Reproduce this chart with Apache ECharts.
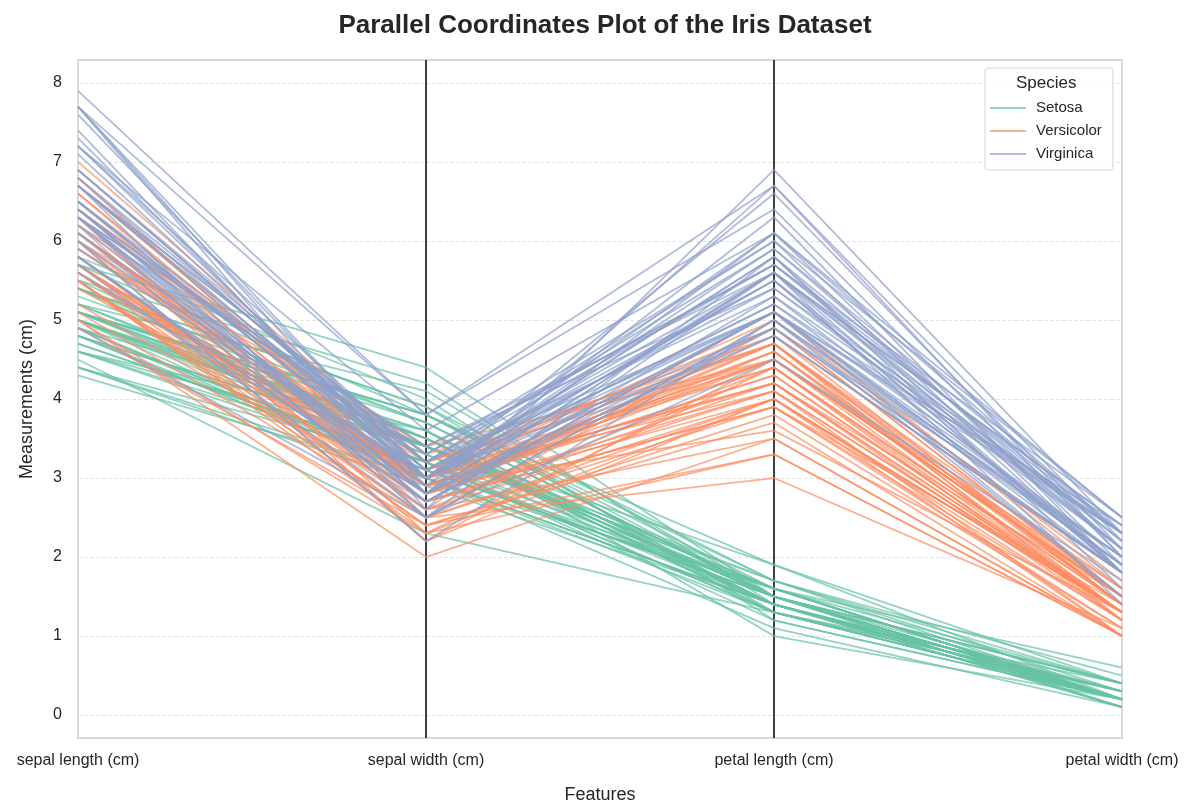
<!DOCTYPE html>
<html>
<head>
<meta charset="utf-8">
<script src="https://cdn.jsdelivr.net/npm/echarts@6/dist/echarts.min.js"></script>
<style>
html, body { margin: 0; padding: 0; background: #fff; }
#main { width: 1190px; height: 803px; }
</style>
</head>
<body>
<div id="main"></div>
<script>
const features = ['sepal length (cm)', 'sepal width (cm)', 'petal length (cm)', 'petal width (cm)'];
const speciesNames = ['Setosa', 'Versicolor', 'Virginica'];
const speciesColors = ['#66c2a5', '#fc8d62', '#8da0cb'];
const yTicks = [0, 1, 2, 3, 4, 5, 6, 7, 8];

const setosaRows = [
  [5.1,3.5,1.4,0.2],[4.9,3.0,1.4,0.2],[4.7,3.2,1.3,0.2],[4.6,3.1,1.5,0.2],[5.0,3.6,1.4,0.2],
  [5.4,3.9,1.7,0.4],[4.6,3.4,1.4,0.3],[5.0,3.4,1.5,0.2],[4.4,2.9,1.4,0.2],[4.9,3.1,1.5,0.1],
  [5.4,3.7,1.5,0.2],[4.8,3.4,1.6,0.2],[4.8,3.0,1.4,0.1],[4.3,3.0,1.1,0.1],[5.8,4.0,1.2,0.2],
  [5.7,4.4,1.5,0.4],[5.4,3.9,1.3,0.4],[5.1,3.5,1.4,0.3],[5.7,3.8,1.7,0.3],[5.1,3.8,1.5,0.3],
  [5.4,3.4,1.7,0.2],[5.1,3.7,1.5,0.4],[4.6,3.6,1.0,0.2],[5.1,3.3,1.7,0.5],[4.8,3.4,1.9,0.2],
  [5.0,3.0,1.6,0.2],[5.0,3.4,1.6,0.4],[5.2,3.5,1.5,0.2],[5.2,3.4,1.4,0.2],[4.7,3.2,1.6,0.2],
  [4.8,3.1,1.6,0.2],[5.4,3.4,1.5,0.4],[5.2,4.1,1.5,0.1],[5.5,4.2,1.4,0.2],[4.9,3.1,1.5,0.2],
  [5.0,3.2,1.2,0.2],[5.5,3.5,1.3,0.2],[4.9,3.6,1.4,0.1],[4.4,3.0,1.3,0.2],[5.1,3.4,1.5,0.2],
  [5.0,3.5,1.3,0.3],[4.5,2.3,1.3,0.3],[4.4,3.2,1.3,0.2],[5.0,3.5,1.6,0.6],[5.1,3.8,1.9,0.4],
  [4.8,3.0,1.4,0.3],[5.1,3.8,1.6,0.2],[4.6,3.2,1.4,0.2],[5.3,3.7,1.5,0.2],[5.0,3.3,1.4,0.2]
];
const versicolorRows = [
  [7.0,3.2,4.7,1.4],[6.4,3.2,4.5,1.5],[6.9,3.1,4.9,1.5],[5.5,2.3,4.0,1.3],[6.5,2.8,4.6,1.5],
  [5.7,2.8,4.5,1.3],[6.3,3.3,4.7,1.6],[4.9,2.4,3.3,1.0],[6.6,2.9,4.6,1.3],[5.2,2.7,3.9,1.4],
  [5.0,2.0,3.5,1.0],[5.9,3.0,4.2,1.5],[6.0,2.2,4.0,1.0],[6.1,2.9,4.7,1.4],[5.6,2.9,3.6,1.3],
  [6.7,3.1,4.4,1.4],[5.6,3.0,4.5,1.5],[5.8,2.7,4.1,1.0],[6.2,2.2,4.5,1.5],[5.6,2.5,3.9,1.1],
  [5.9,3.2,4.8,1.8],[6.1,2.8,4.0,1.3],[6.3,2.5,4.9,1.5],[6.1,2.8,4.7,1.2],[6.4,2.9,4.3,1.3],
  [6.6,3.0,4.4,1.4],[6.8,2.8,4.8,1.4],[6.7,3.0,5.0,1.7],[6.0,2.9,4.5,1.5],[5.7,2.6,3.5,1.0],
  [5.5,2.4,3.8,1.1],[5.5,2.4,3.7,1.0],[5.8,2.7,3.9,1.2],[6.0,2.7,5.1,1.6],[5.4,3.0,4.5,1.5],
  [6.0,3.4,4.5,1.6],[6.7,3.1,4.7,1.5],[6.3,2.3,4.4,1.3],[5.6,3.0,4.1,1.3],[5.5,2.5,4.0,1.3],
  [5.5,2.6,4.4,1.2],[6.1,3.0,4.6,1.4],[5.8,2.6,4.0,1.2],[5.0,2.3,3.3,1.0],[5.6,2.7,4.2,1.3],
  [5.7,3.0,4.2,1.2],[5.7,2.9,4.2,1.3],[6.2,2.9,4.3,1.3],[5.1,2.5,3.0,1.1],[5.7,2.8,4.1,1.3]
];
const virginicaRows = [
  [6.3,3.3,6.0,2.5],[5.8,2.7,5.1,1.9],[7.1,3.0,5.9,2.1],[6.3,2.9,5.6,1.8],[6.5,3.0,5.8,2.2],
  [7.6,3.0,6.6,2.1],[4.9,2.5,4.5,1.7],[7.3,2.9,6.3,1.8],[6.7,2.5,5.8,1.8],[7.2,3.6,6.1,2.5],
  [6.5,3.2,5.1,2.0],[6.4,2.7,5.3,1.9],[6.8,3.0,5.5,2.1],[5.7,2.5,5.0,2.0],[5.8,2.8,5.1,2.4],
  [6.4,3.2,5.3,2.3],[6.5,3.0,5.5,1.8],[7.7,3.8,6.7,2.2],[7.7,2.6,6.9,2.3],[6.0,2.2,5.0,1.5],
  [6.9,3.2,5.7,2.3],[5.6,2.8,4.9,2.0],[7.7,2.8,6.7,2.0],[6.3,2.7,4.9,1.8],[6.7,3.3,5.7,2.1],
  [7.2,3.2,6.0,1.8],[6.2,2.8,4.8,1.8],[6.1,3.0,4.9,1.8],[6.4,2.8,5.6,2.1],[7.2,3.0,5.8,1.6],
  [7.4,2.8,6.1,1.9],[7.9,3.8,6.4,2.0],[6.4,2.8,5.6,2.2],[6.3,2.8,5.1,1.5],[6.1,2.6,5.6,1.4],
  [7.7,3.0,6.1,2.3],[6.3,3.4,5.6,2.4],[6.4,3.1,5.5,1.8],[6.0,3.0,4.8,1.8],[6.9,3.1,5.4,2.1],
  [6.7,3.1,5.6,2.4],[6.9,3.1,5.1,2.3],[5.8,2.7,5.1,1.9],[6.8,3.2,5.9,2.3],[6.7,3.3,5.7,2.5],
  [6.7,3.0,5.2,2.3],[6.3,2.5,5.0,1.9],[6.5,3.0,5.2,2.0],[6.2,3.4,5.4,2.3],[5.9,3.0,5.1,1.8]
];

const font = 'Liberation Sans, Arial, sans-serif';
const rowsBySpecies = [setosaRows, versicolorRows, virginicaRows];
const series = [];
rowsBySpecies.forEach((rows, si) => {
  rows.forEach((row) => {
    series.push({
      name: speciesNames[si],
      type: 'line',
      data: row,
      symbol: 'none',
      silent: true,
      lineStyle: { color: speciesColors[si], width: 1.8, opacity: 0.7 },
      itemStyle: { color: speciesColors[si], opacity: 0.7 },
      emphasis: { disabled: true }
    });
  });
});

const chart = echarts.init(document.getElementById('main'));
chart.setOption({
  backgroundColor: '#fff',
  animation: false,
  title: {
    text: 'Parallel Coordinates Plot of the Iris Dataset',
    left: 600, top: 8, textAlign: 'center',
    textStyle: { fontFamily: font, fontSize: 26, fontWeight: 'bold', color: '#262626' }
  },
  grid: {
    left: 78, right: 68, top: 60, bottom: 65,
    outerBoundsMode: 'none',
    show: true, borderColor: '#cccccc', borderWidth: 1.5, backgroundColor: '#fff'
  },
  legend: {
    data: speciesNames,
    orient: 'vertical',
    left: 985, top: 68,
    padding: [32, 11, 8, 5],
    itemGap: 7,
    itemWidth: 36, itemHeight: 16,
    icon: 'path://M0,7 L36,7 L36,9 L0,9 Z',
    borderColor: '#d5d5d5', borderWidth: 1, borderRadius: 3,
    backgroundColor: 'rgba(255,255,255,0.8)',
    textStyle: { fontFamily: font, fontSize: 15, color: '#262626', padding: [0, 0, 0, 5], lineHeight: 16 },
    selectedMode: false
  },
  graphic: [{
    type: 'text', left: 1016, top: 75, silent: true, z: 100,
    style: { text: 'Species', font: '17px ' + font, fill: '#262626' }
  }],
  xAxis: {
    type: 'category',
    data: features,
    boundaryGap: false,
    name: 'Features',
    nameLocation: 'middle',
    nameGap: 48,
    nameTextStyle: { fontFamily: font, fontSize: 18, color: '#262626' },
    axisLine: { show: false },
    axisTick: { show: false },
    axisLabel: { fontFamily: font, fontSize: 16, color: '#262626', margin: 15 },
    splitLine: { show: true, lineStyle: { color: ['transparent', '#000', '#000', 'transparent'], width: 1.5 } }
  },
  yAxis: {
    type: 'value',
    min: -0.29, max: 8.29,
    name: 'Measurements (cm)',
    nameLocation: 'middle',
    nameGap: 42,
    nameTextStyle: { fontFamily: font, fontSize: 18, color: '#262626' },
    axisLine: { show: false },
    axisTick: { show: false, customValues: yTicks },
    axisLabel: { fontFamily: font, fontSize: 16, color: '#262626', margin: 16, customValues: yTicks },
    splitLine: { show: true, lineStyle: { color: '#dddddd', type: [4, 2], width: 0.8 } }
  },
  series: series
});
</script>
</body>
</html>
